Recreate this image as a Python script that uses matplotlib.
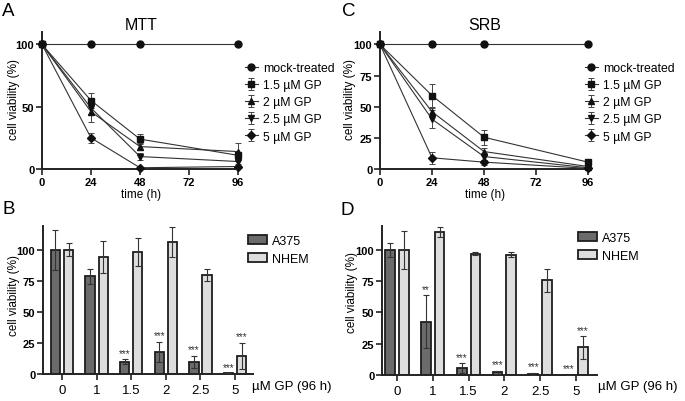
import numpy as np
import matplotlib
matplotlib.use("Agg")
from matplotlib import pyplot as plt
from matplotlib.patches import Patch

plt.rcParams['font.family'] = ['Liberation Sans', 'DejaVu Sans']

# time course data (A = MTT, C = SRB)
tiempo = [0, 24, 48, 96]
etiquetas = ['mock-treated', '1.5 µM GP', '2 µM GP', '2.5 µM GP', '5 µM GP']
marcadores = ['o', 's', '^', 'v', 'D']

mtt_mock = [100, 100, 100, 100]
mtt_15 = [100, 55, 24, 11]
mtt_2 = [100, 46, 18, 14]
mtt_25 = [100, 49, 10, 6]
mtt_5 = [100, 25, 1, 2]
mtt_err_15 = [0, 6, 4, 3]
mtt_err_2 = [0, 8, 3, 7]
mtt_err_25 = [0, 5, 3, 2]
mtt_err_5 = [0, 4, 1, 1]

srb_mock = [100, 100, 100, 100]
srb_15 = [100, 59, 25.5, 5.5]
srb_2 = [100, 46, 14, 2]
srb_25 = [100, 40, 10, 1]
srb_5 = [100, 9, 5.5, 0.5]
srb_err_15 = [0, 9.5, 6, 2]
srb_err_2 = [0, 3, 3, 1]
srb_err_25 = [0, 7, 3, 1]
srb_err_5 = [0, 5, 2, 0.5]

# 96 h bar data (B = MTT, D = SRB)
dosis = ['0', '1', '1.5', '2', '2.5', '5']
b_a375 = [100, 78.5, 9.7, 18, 9.7, 0.5]
b_a375_err = [16, 6, 2, 8, 5, 0]
b_nhem = [100, 94, 98, 106, 79.6, 14.7]
b_nhem_err = [5, 13, 11, 12, 5, 10.5]
b_a375_sig = ['', '', '***', '***', '***', '***']
b_nhem_sig = ['', '', '', '', '', '***']

d_a375 = [100, 42.5, 5.6, 2.2, 1, 0.2]
d_a375_err = [5.5, 21, 4, 1.2, 0.8, 0]
d_nhem = [100, 114, 97, 96, 75.5, 22]
d_nhem_err = [15, 4, 1.5, 2, 9, 9]
d_a375_sig = ['', '**', '***', '***', '***', '***']
d_nhem_sig = ['', '', '', '', '', '***']

W, H = 685, 402
fig = plt.figure(figsize=(W / 100, H / 100), dpi=100)


def ejes(izq, der, arriba, abajo):
    "crea ejes a partir de pixeles"
    return fig.add_axes([izq / W, 1 - abajo / H, (der - izq) / W, (abajo - arriba) / H])


def estilo(ax):
    for s in ['top', 'right']:
        ax.spines[s].set_visible(False)
    for s in ['left', 'bottom']:
        ax.spines[s].set_linewidth(1.4)
        ax.spines[s].set_color('#222222')
    ax.tick_params(width=1.2, length=4, color='#222222')


def ylabel(px, py):
    fig.text(px / W, 1 - py / H, 'cell viability (%)', rotation=90, fontsize=8.5,
             ha='center', va='center')


def curvas(ax, series, errores, titulo, yticks, xmax, leg_x):
    for i, y in enumerate(series):
        ax.errorbar(tiempo, y, yerr=errores[i], color='#333333', lw=0.8,
                    marker=marcadores[i], ms=5 if i != 4 else 4.5, mfc='#111111', mec='#111111',
                    ecolor='#444444', elinewidth=0.7, capsize=2.5, capthick=0.7,
                    label=etiquetas[i], clip_on=False, zorder=3)
    ax.set_xlim(0, xmax)
    ax.set_ylim(0, 110)
    ax.set_xticks([0, 24, 48, 72, 96])
    ax.set_yticks(yticks)
    estilo(ax)
    for t in ax.get_xticklabels() + ax.get_yticklabels():
        t.set_fontweight('bold')
        t.set_fontsize(8)
    ax.tick_params(pad=1.5)
    ax.set_xlabel('time (h)', fontsize=8.5, labelpad=1)
    ax.set_title(titulo, fontsize=11.5, pad=2)
    ax.legend(loc='upper left', bbox_to_anchor=(leg_x / W, 1 - 63 / H), bbox_transform=fig.transFigure,
              frameon=False, fontsize=8.8, handlelength=1.05, handletextpad=0.4,
              labelspacing=0.42, borderaxespad=0, borderpad=0)


def barras(ax, a375, a375_err, nhem, nhem_err, sig_a, sig_n, xlim, texto_x, leg_x, leg_y):
    x = np.arange(len(dosis))
    ancho = 0.27
    off = 0.19
    ax.bar(x - off, a375, ancho, color='#6b6b6b', edgecolor='#1e1e1e', lw=1.3, label='A375', zorder=2)
    ax.bar(x + off, nhem, ancho, color='#dedede', edgecolor='#1e1e1e', lw=1.3, label='NHEM', zorder=2)
    ax.errorbar(x - off, a375, yerr=a375_err, fmt='none', ecolor='#333333', elinewidth=0.8,
                capsize=2.5, capthick=0.8, zorder=3)
    ax.errorbar(x + off, nhem, yerr=nhem_err, fmt='none', ecolor='#333333', elinewidth=0.8,
                capsize=2.5, capthick=0.8, zorder=3)
    for i in range(len(dosis)):
        if sig_a[i]:
            ax.text(x[i] - off, a375[i] + a375_err[i] + 1, sig_a[i], ha='center', va='bottom',
                    fontsize=7.2, color='#333333')
        if sig_n[i]:
            ax.text(x[i] + off, nhem[i] + nhem_err[i] + 1, sig_n[i], ha='center', va='bottom',
                    fontsize=7.2, color='#333333')
    ax.set_xlim(*xlim)
    ax.set_ylim(0, 119)
    ax.set_xticks(x)
    ax.set_xticklabels(dosis, fontsize=9.5)
    ax.set_yticks([0, 25, 50, 75, 100])
    estilo(ax)
    for t in ax.get_yticklabels():
        t.set_fontweight('bold')
        t.set_fontsize(8)
    ax.tick_params(axis='y', pad=1.5)
    ax.tick_params(axis='x', pad=3)
    fig.text(texto_x / W, 1 - 387 / H, 'µM GP (96 h)', fontsize=9.5, va='center', ha='left')
    hs = [Patch(facecolor='#6b6b6b', edgecolor='#1e1e1e', lw=1.3),
          Patch(facecolor='#dedede', edgecolor='#1e1e1e', lw=1.3)]
    ax.legend(hs, ['A375', 'NHEM'], loc='upper left', bbox_to_anchor=(leg_x / W, 1 - leg_y / H),
              bbox_transform=fig.transFigure, frameon=False,
              fontsize=9, handlelength=1.5, handleheight=0.75, handletextpad=0.45,
              labelspacing=0.5, borderaxespad=0, borderpad=0)


axA = ejes(42, 240, 33, 170)
curvas(axA, [mtt_mock, mtt_15, mtt_2, mtt_25, mtt_5],
       [None, mtt_err_15, mtt_err_2, mtt_err_25, mtt_err_5], 'MTT', [0, 50, 100], 97, 245)
ylabel(14, 100)

axC = ejes(380, 590, 33, 170)
curvas(axC, [srb_mock, srb_15, srb_2, srb_25, srb_5],
       [None, srb_err_15, srb_err_2, srb_err_25, srb_err_5], 'SRB', [0, 25, 50, 75, 100], 96.9, 585)
ylabel(350, 100)

axB = ejes(43, 253, 227, 375)
barras(axB, b_a375, b_a375_err, b_nhem, b_nhem_err, b_a375_sig, b_nhem_sig, (-0.55, 5.52), 252, 248, 236)
ylabel(14, 295)

axD = ejes(382, 597, 227, 376)
barras(axD, d_a375, d_a375_err, d_nhem, d_nhem_err, d_a375_sig, d_nhem_sig, (-0.42, 5.59), 598, 578, 233)
ylabel(352, 293)

# letras de los paneles
for letra, px, py in [('A', 2, 12), ('C', 342, 12), ('B', 2, 210), ('D', 341, 211)]:
    fig.text(px / W, 1 - py / H, letra, fontsize=13.5, va='center', ha='left')

fig.savefig('out.png', dpi=100)
